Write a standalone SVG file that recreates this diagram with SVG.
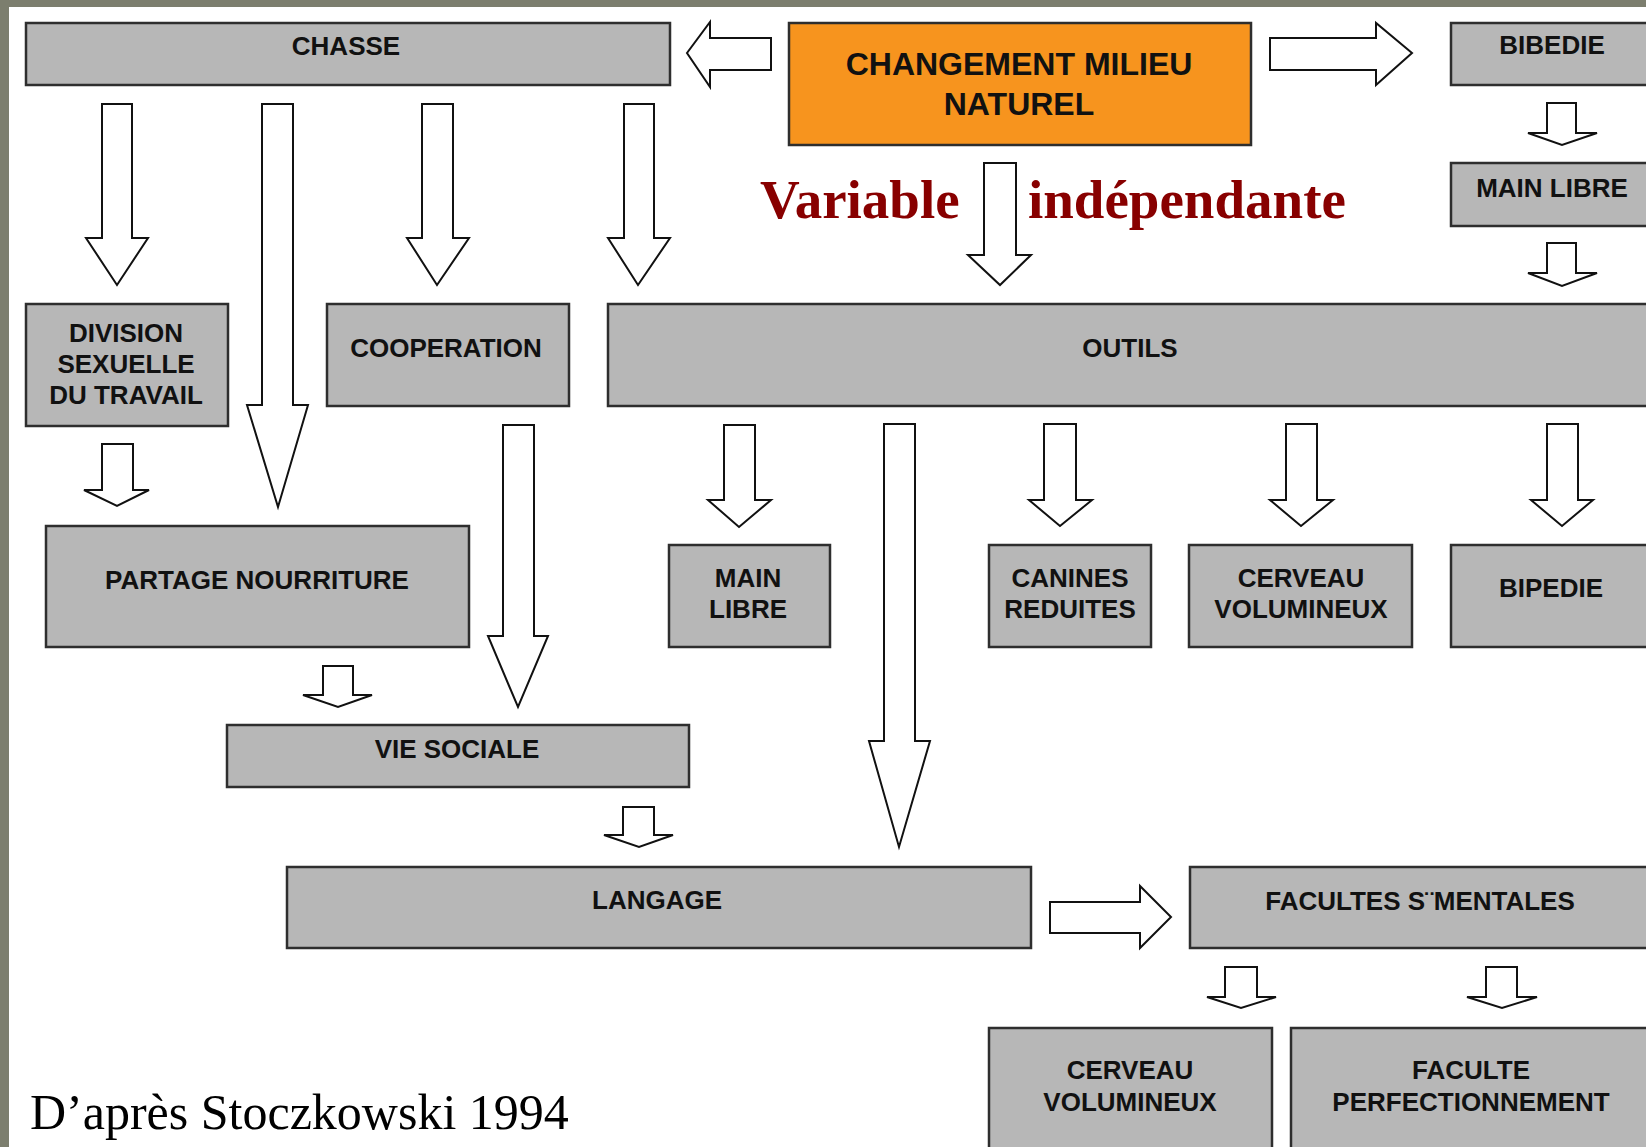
<svg xmlns="http://www.w3.org/2000/svg" width="1646" height="1147" viewBox="0 0 1646 1147">
<style>
.box{fill:#b7b7b7;stroke:#2e2e2e;stroke-width:2.5}
.org{fill:#f7941e;stroke:#2e2e2e;stroke-width:2.5}
.lbl{font-family:"Liberation Sans",Arial,sans-serif;font-weight:bold;font-size:26px;fill:#111;text-anchor:middle}
.big{font-size:32px}
.arr{fill:#fff;stroke:#111;stroke-width:2;stroke-linejoin:miter}
.var{font-family:"Liberation Serif","Times New Roman",serif;font-weight:bold;font-size:55px;fill:#880000}
.cite{font-family:"Liberation Serif","Times New Roman",serif;font-size:50px;fill:#000}
</style>
<rect x="0" y="0" width="1646" height="1147" fill="#ffffff"/>
<rect x="0" y="0" width="1646" height="7" fill="#7c7e6e"/>
<rect x="0" y="0" width="9" height="1147" fill="#7c7e6e"/>

<g id="connectors">
<path class="arr" d="M102,104 L132,104 L132,238 L148,238 L117,285 L86,238 L102,238 Z"/>
<path class="arr" d="M262,104 L293,104 L293,405 L308,405 L278,507 L247,405 L262,405 Z"/>
<path class="arr" d="M422,104 L453,104 L453,238 L469,238 L437,285 L407,238 L422,238 Z"/>
<path class="arr" d="M624,104 L654,104 L654,238 L670,238 L638,285 L608,238 L624,238 Z"/>
<path class="arr" d="M771,38 L771,70 L710,70 L710,87 L687,53 L710,22 L710,38 Z"/>
<path class="arr" d="M1270,38 L1376,38 L1376,23 L1412,53 L1376,85 L1376,70 L1270,70 Z"/>
<path class="arr" d="M984,163 L1016,163 L1016,255 L1031,255 L1000,285 L968,255 L984,255 Z"/>
<path class="arr" d="M1547,103 L1576,103 L1576,133 L1597,133 L1562,145 L1528,133 L1547,133 Z"/>
<path class="arr" d="M1547,243 L1576,243 L1576,273 L1597,273 L1562,286 L1528,273 L1547,273 Z"/>
<path class="arr" d="M102,444 L133,444 L133,490 L149,490 L117,506 L84,490 L102,490 Z"/>
<path class="arr" d="M503,425 L534,425 L534,636 L548,636 L518,707 L488,636 L503,636 Z"/>
<path class="arr" d="M724,425 L755,425 L755,500 L771,500 L739,527 L708,500 L724,500 Z"/>
<path class="arr" d="M884,424 L915,424 L915,741 L930,741 L899,847 L869,741 L884,741 Z"/>
<path class="arr" d="M1044,424 L1076,424 L1076,500 L1092,500 L1060,526 L1029,500 L1044,500 Z"/>
<path class="arr" d="M1286,424 L1317,424 L1317,500 L1333,500 L1301,526 L1270,500 L1286,500 Z"/>
<path class="arr" d="M1547,424 L1578,424 L1578,500 L1593,500 L1562,526 L1531,500 L1547,500 Z"/>
<path class="arr" d="M323,666 L353,666 L353,695 L372,695 L338,707 L303,695 L323,695 Z"/>
<path class="arr" d="M623,807 L654,807 L654,835 L673,835 L639,847 L604,835 L623,835 Z"/>
<path class="arr" d="M1050,902 L1140,902 L1140,886 L1171,917 L1140,948 L1140,933 L1050,933 Z"/>
<path class="arr" d="M1225,967 L1257,967 L1257,997 L1276,997 L1241,1008 L1207,997 L1225,997 Z"/>
<path class="arr" d="M1486,967 L1517,967 L1517,997 L1537,997 L1502,1008 L1467,997 L1486,997 Z"/>
</g>

<g id="chasse"><rect class="box" x="26" y="23" width="644" height="62"/><text class="lbl" x="346" y="55">CHASSE</text></g>
<g id="changement"><rect class="org" x="789" y="23" width="462" height="122"/><text class="lbl big" x="1019" y="75">CHANGEMENT MILIEU</text><text class="lbl big" x="1019" y="115">NATUREL</text></g>
<g id="bibedie"><rect class="box" x="1451" y="23" width="210" height="62"/><text class="lbl" x="1552" y="54">BIBEDIE</text></g>
<g id="mainlibre-top"><rect class="box" x="1451" y="163" width="210" height="63"/><text class="lbl" x="1552" y="197">MAIN LIBRE</text></g>
<g id="division"><rect class="box" x="26" y="304" width="202" height="122"/><text class="lbl" x="126" y="342">DIVISION</text><text class="lbl" x="126" y="373">SEXUELLE</text><text class="lbl" x="126" y="404">DU TRAVAIL</text></g>
<g id="cooperation"><rect class="box" x="327" y="304" width="242" height="102"/><text class="lbl" x="446" y="357">COOPERATION</text></g>
<g id="outils"><rect class="box" x="608" y="304" width="1053" height="102"/><text class="lbl" x="1130" y="357">OUTILS</text></g>
<g id="partage"><rect class="box" x="46" y="526" width="423" height="121"/><text class="lbl" x="257" y="589">PARTAGE NOURRITURE</text></g>
<g id="mainlibre"><rect class="box" x="669" y="545" width="161" height="102"/><text class="lbl" x="748" y="587">MAIN</text><text class="lbl" x="748" y="618">LIBRE</text></g>
<g id="canines"><rect class="box" x="989" y="545" width="162" height="102"/><text class="lbl" x="1070" y="587">CANINES</text><text class="lbl" x="1070" y="618">REDUITES</text></g>
<g id="cerveau"><rect class="box" x="1189" y="545" width="223" height="102"/><text class="lbl" x="1301" y="587">CERVEAU</text><text class="lbl" x="1301" y="618">VOLUMINEUX</text></g>
<g id="bipedie"><rect class="box" x="1451" y="545" width="210" height="102"/><text class="lbl" x="1551" y="597">BIPEDIE</text></g>
<g id="viesociale"><rect class="box" x="227" y="725" width="462" height="62"/><text class="lbl" x="457" y="758">VIE SOCIALE</text></g>
<g id="langage"><rect class="box" x="287" y="867" width="744" height="81"/><text class="lbl" x="657" y="909">LANGAGE</text></g>
<g id="facultes"><rect class="box" x="1190" y="867" width="471" height="81"/><text class="lbl" x="1420" y="910">FACULTES S¨MENTALES</text></g>
<g id="cerveau2"><rect class="box" x="989" y="1028" width="283" height="132"/><text class="lbl" x="1130" y="1079">CERVEAU</text><text class="lbl" x="1130" y="1111">VOLUMINEUX</text></g>
<g id="faculte"><rect class="box" x="1291" y="1028" width="370" height="132"/><text class="lbl" x="1471" y="1079">FACULTE</text><text class="lbl" x="1471" y="1111">PERFECTIONNEMENT</text></g>

<text class="var" x="760" y="218">Variable</text>
<text class="var" x="1028" y="218">indépendante</text>
<text class="cite" x="30" y="1129">D’après Stoczkowski 1994</text>
</svg>
